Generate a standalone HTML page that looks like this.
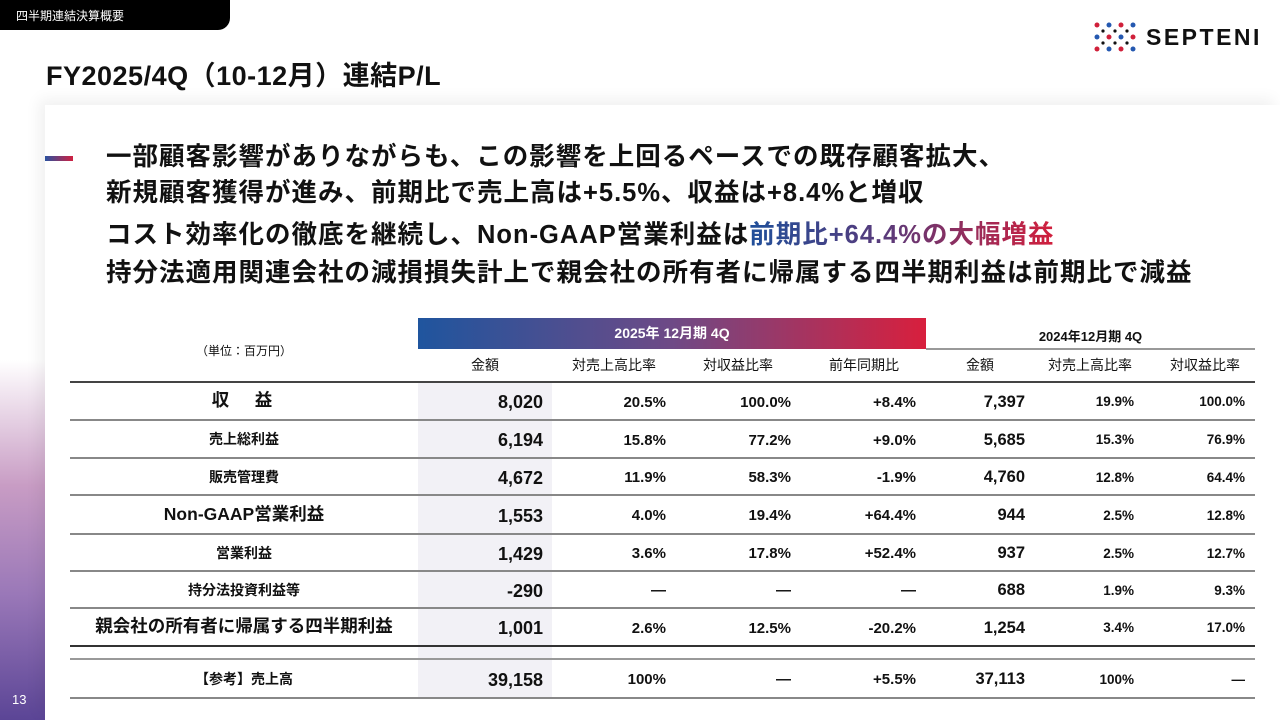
<!DOCTYPE html>
<html><head><meta charset="utf-8">
<style>
*{margin:0;padding:0;box-sizing:border-box}
body{width:1280px;height:720px;overflow:hidden;background:#fff;font-family:"Liberation Sans","Noto Sans CJK JP",sans-serif;color:#111;position:relative}
.abs{position:absolute}
#tag{left:0;top:0;width:230px;height:30px;background:#000;border-bottom-right-radius:12px;color:#fff;font-size:12px;padding:7px 0 0 16px}
#title{left:46px;top:54px;font-size:27px;font-weight:bold;letter-spacing:0.5px}
#leftstrip{left:0;top:360px;width:45px;height:360px;background:linear-gradient(#fff,#c89cc4 35%,#9a78b8 65%,#5b4596)}
#pnum{left:12px;top:692px;color:#fff;font-size:13px}
#card{left:45px;top:105px;width:1235px;height:615px;background:#fff;box-shadow:-6px -6px 14px rgba(0,0,0,0.06)}
#bullet{left:45px;top:156px;width:28px;height:5px;background:linear-gradient(90deg,#2a52a0,#d02040)}
.hl{left:106px;font-size:25.5px;letter-spacing:1px;font-weight:bold;white-space:nowrap;line-height:1}
.grad{background:linear-gradient(90deg,#1f4f9a,#5a3a7a 45%,#d21f3c);-webkit-background-clip:text;background-clip:text;color:transparent}
.cell{position:absolute;font-weight:bold;white-space:nowrap;line-height:1}
.line{position:absolute;height:2px}
</style></head><body>
<div id="tag" class="abs">四半期連結決算概要</div>
<div id="title" class="abs">FY2025/4Q（10-12月）連結P/L</div>
<svg class="abs" style="left:1093px;top:22px" width="46" height="30">
<g fill="#d0203a"><circle cx="4" cy="3" r="2.5"/><circle cx="28" cy="3" r="2.5"/><circle cx="16" cy="15" r="2.5"/><circle cx="40" cy="15" r="2.5"/><circle cx="4" cy="27" r="2.5"/><circle cx="28" cy="27" r="2.5"/></g>
<g fill="#2458b0"><circle cx="16" cy="3" r="2.5"/><circle cx="40" cy="3" r="2.5"/><circle cx="4" cy="15" r="2.5"/><circle cx="28" cy="15" r="2.5"/><circle cx="16" cy="27" r="2.5"/><circle cx="40" cy="27" r="2.5"/></g>
<g fill="#111"><circle cx="10" cy="9" r="1.6"/><circle cx="22" cy="9" r="1.6"/><circle cx="34" cy="9" r="1.6"/><circle cx="10" cy="21" r="1.6"/><circle cx="22" cy="21" r="1.6"/><circle cx="34" cy="21" r="1.6"/></g></svg>
<div class="abs" style="left:1146px;top:24px;font-size:23px;font-weight:bold;letter-spacing:2.5px;color:#111">SEPTENI</div>
<div id="leftstrip" class="abs"></div>
<div id="pnum" class="abs">13</div>
<div id="card" class="abs"></div>
<div id="bullet" class="abs"></div>
<div class="abs hl" style="top:145px">一部顧客影響がありながらも、この影響を上回るペースでの既存顧客拡大、</div>
<div class="abs hl" style="top:181px">新規顧客獲得が進み、前期比で売上高は+5.5%、収益は+8.4%と増収</div>
<div class="abs hl" style="top:223px">コスト効率化の徹底を継続し、Non-GAAP営業利益は<span class="grad">前期比+64.4%の大幅増益</span></div>
<div class="abs hl" style="top:261px">持分法適用関連会社の減損損失計上で親会社の所有者に帰属する四半期利益は前期比で減益</div>

<div class="abs" style="left:418px;top:318px;width:508px;height:31px;background:linear-gradient(90deg,#1f559e,#6e4a86 50%,#d81f3d);color:#fff;font-size:14px;font-weight:bold;text-align:center;line-height:31px">2025年 12月期 4Q</div>
<div class="abs" style="left:926px;top:326px;width:329px;text-align:center;font-size:13px;font-weight:bold">2024年12月期 4Q</div>
<div class="line" style="left:926px;top:348px;width:329px;background:#999"></div>
<div class="abs" style="left:70px;top:342px;width:348px;text-align:center;font-size:12px">（単位：百万円）</div>
<div class="abs" style="left:418px;top:382px;width:134px;height:316px;background:#f2f1f6"></div>
<script>
const rowLabels=["収　益","売上総利益","販売管理費","Non-GAAP営業利益","営業利益","持分法投資利益等","親会社の所有者に帰属する四半期利益","【参考】売上高"];
const amt25=["8,020","6,194","4,672","1,553","1,429","-290","1,001","39,158"];
const salesRatio25=["20.5%","15.8%","11.9%","4.0%","3.6%","—","2.6%","100%"];
const revRatio25=["100.0%","77.2%","58.3%","19.4%","17.8%","—","12.5%","—"];
const yoy=["+8.4%","+9.0%","-1.9%","+64.4%","+52.4%","—","-20.2%","+5.5%"];
const amt24=["7,397","5,685","4,760","944","937","688","1,254","37,113"];
const salesRatio24=["19.9%","15.3%","12.8%","2.5%","2.5%","1.9%","3.4%","100%"];
const revRatio24=["100.0%","76.9%","64.4%","12.8%","12.7%","9.3%","17.0%","—"];
const subHeads=["金額","対売上高比率","対収益比率","前年同期比","金額","対売上高比率","対収益比率"];
const body=document.body;
function add(txt,style,name){const d=document.createElement('div');d.className='cell';d.textContent=txt;d.style.cssText=style;


body.appendChild(d);}
const colR=[543,666,791,916,1025,1134,1245];
const colC=[485,614,738,864,980,1090,1205];
subHeads.forEach((h,i)=>add(h,`left:${colC[i]-60}px;width:120px;text-align:center;top:358px;font-size:14px;font-weight:normal`,'subheader-'+i));
const tops=[382,420,458,495,534,571,608,659];
const bots=[420,458,495,534,571,608,646,698];
function line(y,c,name){const l=document.createElement('div');l.className='line';l.style.cssText=`left:70px;width:1185px;top:${y-1}px;background:${c}`;


body.appendChild(l);}
line(382,'#444','header-rule');
rowLabels.forEach((lab,r)=>{
  const cy=(tops[r]+bots[r])/2;
  const big=(r==0||r==3||r==6);
  const lfs=big?17.5:14;
  add(lab,`left:70px;width:348px;text-align:center;top:${cy-lfs/2}px;font-size:${lfs}px;font-weight:600;${r==0?'letter-spacing:4px;':''}`,'row-label-'+r);
  const vals=[amt25[r],salesRatio25[r],revRatio25[r],yoy[r],amt24[r],salesRatio24[r],revRatio24[r]];
  vals.forEach((v,c)=>{
    const fs=c==0?18:(c==4?16.5:(c>=5?13.5:15));
    add(v,`right:${1280-colR[c]}px;top:${cy-fs/2+1}px;font-size:${fs}px`,'cell-r'+r+'-c'+c);
  });
  line(bots[r],(r==6?'#333':'#888'),'row-rule-'+r);
});
line(659,'#999','reference-top-rule');
</script>
</body></html>
